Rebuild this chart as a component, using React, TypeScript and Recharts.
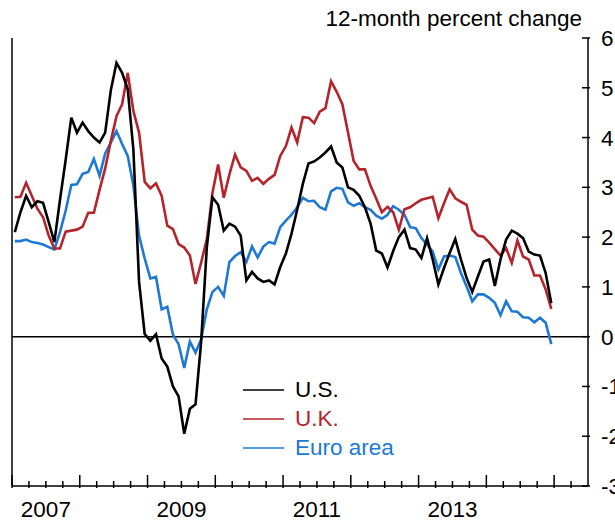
import { LineChart, Line, XAxis, YAxis, ReferenceLine, Legend } from 'recharts';

// 12-month percent change, monthly, Jan 2007 - Dec 2014
const usValues = [
  2.1, 2.5, 2.83, 2.6, 2.72, 2.69, 2.3, 1.9, 2.75, 3.55, 4.4, 4.1,
  4.3, 4.13, 4.0, 3.9, 4.1, 4.95, 5.5, 5.3, 4.97, 3.75, 1.1, 0.05,
  -0.08, 0.05, -0.44, -0.6, -1.0, -1.2, -1.95, -1.45, -1.36, -0.1, 1.8, 2.8,
  2.65, 2.13, 2.27, 2.21, 2.03, 1.13, 1.3, 1.17, 1.1, 1.13, 1.05, 1.4,
  1.67, 2.07, 2.55, 3.07, 3.48, 3.52, 3.6, 3.7, 3.82, 3.5, 3.4, 3.0,
  2.95, 2.83, 2.6, 2.27, 1.73, 1.67, 1.39, 1.72, 2.0, 2.15, 1.78, 1.75,
  1.58, 1.98, 1.55, 1.05, 1.38, 1.68, 1.96, 1.55, 1.18, 0.9, 1.21, 1.51,
  1.55, 1.02, 1.55, 1.95, 2.13, 2.07, 1.98, 1.71, 1.65, 1.63, 1.28, 0.67,
];

const ukValues = [
  2.8, 2.81, 3.09, 2.83, 2.57, 2.4, 2.03, 1.77, 1.77, 2.11, 2.13, 2.15,
  2.21, 2.49, 2.49, 2.95, 3.38, 3.93, 4.43, 4.67, 5.3, 4.53, 4.1, 3.11,
  2.98, 3.08, 2.83, 2.23, 2.16, 1.86, 1.79, 1.63, 1.06, 1.49, 1.96, 2.89,
  3.46, 2.79, 3.26, 3.66, 3.4, 3.33, 3.13, 3.19, 3.07, 3.17, 3.25, 3.63,
  3.83, 4.2, 3.9, 4.41, 4.4, 4.29, 4.52, 4.59, 5.13, 4.92, 4.67, 4.1,
  3.53, 3.36, 3.36, 3.03, 2.77, 2.5, 2.61, 2.5, 2.15, 2.56, 2.6, 2.68,
  2.75, 2.78, 2.81, 2.38, 2.68, 2.96, 2.78, 2.71, 2.65, 2.15, 2.03, 2.01,
  1.89, 1.76, 1.63, 1.78, 1.48, 1.93, 1.61, 1.55, 1.23, 1.23, 0.95, 0.56,
];

const euroValues = [
  1.92, 1.92, 1.95, 1.9, 1.88, 1.85, 1.8, 1.75, 2.1, 2.53, 3.05, 3.06,
  3.27, 3.31, 3.57, 3.23, 3.68, 3.9, 4.13, 3.87, 3.63, 3.03, 2.03, 1.57,
  1.17, 1.2, 0.55, 0.6, 0.04, -0.15, -0.63, -0.1, -0.32, -0.05, 0.55, 0.9,
  1.0, 0.82, 1.5, 1.62, 1.7, 1.5, 1.81, 1.59, 1.81, 1.9, 1.87, 2.2,
  2.33, 2.45, 2.6, 2.79, 2.72, 2.73, 2.6, 2.55, 2.92, 2.99, 2.97, 2.7,
  2.63, 2.68, 2.6, 2.55, 2.43, 2.37, 2.45, 2.62, 2.55, 2.45, 2.2, 2.18,
  1.98, 1.85, 1.71, 1.35, 1.61, 1.63, 1.6, 1.28, 1.01, 0.71, 0.85, 0.85,
  0.78, 0.68, 0.43, 0.71, 0.51, 0.5, 0.39, 0.38, 0.29, 0.38, 0.28, -0.15,
];

const firstYear = 2007;
const yearLabels = ['2007', '2009', '2011', '2013'];
const yTicks = [-3, -2, -1, 0, 1, 2, 3, 4, 5, 6];

const FONT = '"Liberation Sans", Arial, sans-serif';
const RED = '#B5232B';
const BLUE = '#1D79D3';

const rows = usValues.map((v, i) => ({
  t: i + 0.5,
  us: v,
  uk: ukValues[i],
  euro: euroValues[i],
}));

// quarterly tick marks, month 0 = Jan 2007, axis runs to mid-2015
const xTicks: number[] = [];
for (let m = 0; m < 102; m += 3) xTicks.push(m);

function XTick({ x, y, payload }: any) {
  const v = payload.value;
  const major = v % 12 === 0;
  const year = String(firstYear + (v - 6) / 12);
  const showLabel = v % 12 === 6 && yearLabels.includes(year);
  return (
    <g>
      <line x1={x} x2={x} y1={y} y2={y - (major ? 13 : 7)} stroke="#000" strokeWidth={1.5} />
      {showLabel && (
        <text x={x} y={y + 29} textAnchor="middle" fontSize={22.5} fontFamily={FONT} fill="#000">
          {year}
        </text>
      )}
    </g>
  );
}

function RightTick({ x, y, payload }: any) {
  return (
    <g>
      <line x1={x - 8} x2={x} y1={y} y2={y} stroke="#000" strokeWidth={1.5} />
      <text x={x + 11} y={y + 8} fontSize={22.5} fontFamily={FONT} fill="#000">
        {payload.value}
      </text>
    </g>
  );
}

function LeftTick({ x, y }: any) {
  return <line x1={x} x2={x + 8} y1={y} y2={y} stroke="#000" strokeWidth={1.5} />;
}

function LegendBox({ payload }: any) {
  const items = [...(payload || [])].reverse();
  return (
    <div style={{ fontFamily: FONT, fontSize: 22.5 }}>
      {items.map((p: any) => (
        <div key={p.value} style={{ display: 'flex', alignItems: 'center', height: 29 }}>
          <svg width={41} height={4} style={{ marginRight: 11 }}>
            <line x1={0} x2={41} y1={2} y2={2} stroke={p.color} strokeWidth={1.6} />
          </svg>
          <span style={{ color: p.color, lineHeight: '29px' }}>{p.value}</span>
        </div>
      ))}
    </div>
  );
}

export default function App() {
  return (
    <div style={{ position: 'absolute', left: 0, top: 0, width: 615, height: 520, background: '#fff' }}>
      <div
        style={{
          position: 'absolute',
          left: 0,
          top: 6,
          width: 582,
          textAlign: 'right',
          fontFamily: FONT,
          fontSize: 22.5,
          lineHeight: '26px',
          color: '#000',
        }}
      >
        12-month percent change
      </div>
      <LineChart
        width={615}
        height={520}
        data={rows}
        margin={{ top: 38, right: 0, bottom: 0, left: 0 }}
        style={{ fontFamily: FONT }}
      >
        <XAxis
          dataKey="t"
          type="number"
          domain={[0, 102]}
          ticks={xTicks}
          interval={0}
          height={34}
          tickSize={0}
          tickLine={false}
          tick={<XTick />}
          axisLine={{ stroke: '#000', strokeWidth: 1.5 }}
        />
        <YAxis
          yAxisId="left"
          orientation="left"
          width={12}
          domain={[-3, 6]}
          ticks={yTicks}
          interval={0}
          tickSize={0}
          tickLine={false}
          tick={<LeftTick />}
          axisLine={{ stroke: '#000', strokeWidth: 1.5 }}
        />
        <YAxis
          yAxisId="right"
          orientation="right"
          width={27}
          domain={[-3, 6]}
          ticks={yTicks}
          interval={0}
          tickSize={0}
          tickLine={false}
          tick={<RightTick />}
          axisLine={{ stroke: '#000', strokeWidth: 1.5 }}
        />
        <ReferenceLine yAxisId="right" y={0} stroke="#000" strokeWidth={1.5} />
        <Line yAxisId="right" dataKey="euro" name="Euro area" stroke={BLUE} strokeWidth={2.6} dot={false} isAnimationActive={false} />
        <Line yAxisId="right" dataKey="uk" name="U.K." stroke={RED} strokeWidth={2.6} dot={false} isAnimationActive={false} />
        <Line yAxisId="right" dataKey="us" name="U.S." stroke="#000" strokeWidth={2.6} dot={false} isAnimationActive={false} />
        <Legend
          layout="horizontal"
          verticalAlign="middle"
          align="center"
          content={<LegendBox />}
          wrapperStyle={{ position: 'absolute', left: 243, top: 375, width: 'auto' }}
        />
      </LineChart>
    </div>
  );
}
